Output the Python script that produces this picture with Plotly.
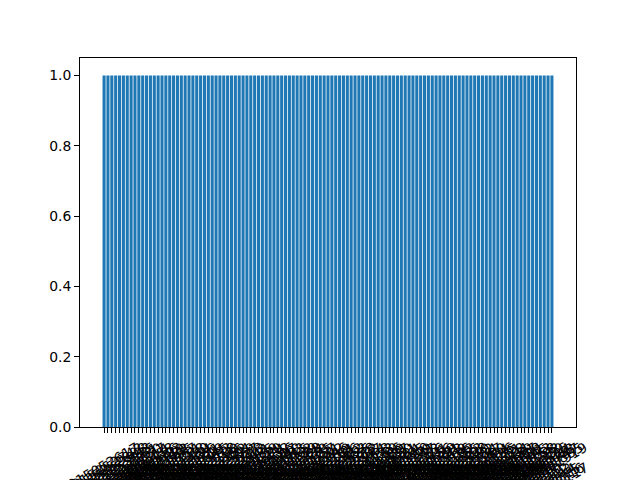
import plotly.graph_objects as go

dates = [
    "20150526", "20150527", "20150528", "20150529", "20150530", "20150531",
    "20150601", "20150602", "20150603", "20150604", "20150605", "20150606",
    "20150607", "20150608", "20150609", "20150610", "20150611", "20150612",
    "20150613", "20150614", "20150615", "20150616", "20150617", "20150618",
    "20150619", "20150620", "20150621", "20150622", "20150623", "20150624",
    "20150625", "20150626", "20150627", "20150628", "20150629", "20150630",
    "20150701", "20150702", "20150703", "20150704", "20150705", "20150706",
    "20150707", "20150708", "20150709", "20150710", "20150711", "20150712",
    "20150713", "20150714", "20150715", "20150716", "20150717", "20150718",
    "20150719", "20150720", "20150721", "20150722", "20150723", "20150724",
    "20150725", "20150726", "20150727", "20150728", "20150729", "20150730",
    "20150731", "20150801", "20150802", "20150803", "20150804", "20150805",
    "20150806", "20150807", "20150808", "20150809", "20150810", "20150811",
    "20150812", "20150813", "20150814", "20150815", "20150816", "20150817",
    "20150818", "20150819", "20150820", "20150821", "20150822", "20150823",
    "20150824", "20150825", "20150826", "20150827", "20150828", "20150829",
    "20150830", "20150831", "20150901", "20150902", "20150903", "20150904",
    "20150905", "20150906", "20150907", "20150908", "20150909", "20150910",
    "20150911", "20150912", "20150913", "20150914", "20150915", "20150916",
    "20150917", "20150918", "20150919",
]
codes = [
    "52015001", "52015002", "52015003", "52015004", "52015005", "52015006",
    "52015007", "52015008", "52015009", "52015010", "52015011", "52015012",
    "52015013", "52015014", "52015015", "52015016", "52015017", "52015018",
    "52015019", "52015020", "52015021", "52015022", "52015023", "52015024",
    "52015025", "52015026", "52015027", "52015028", "52015029", "52015030",
    "52015031", "52015032", "52015033", "52015034", "52015035", "52015036",
    "52015037", "52015038", "52015039", "52015040", "52015041", "52015042",
    "52015043", "52015044", "52015045", "52015046", "52015047", "52015048",
    "52015049", "52015050", "52015051", "52015052", "52015053", "52015054",
    "52015055", "52015056", "52015057", "52015058", "52015059", "52015060",
    "52015061", "52015062", "52015063", "52015064", "52015065", "52015066",
    "52015067", "52015068", "52015069", "52015070", "52015071", "52015072",
    "52015073", "52015074", "52015075", "52015076", "52015077", "52015078",
    "52015079", "52015080", "52015081", "52015082", "52015083", "52015084",
    "52015085", "52015086", "52015087", "52015088", "52015089", "52015090",
    "52015091", "52015092", "52015093", "52015094", "52015095", "52015096",
    "52015097", "52015098", "52015099", "52015100", "52015101", "52015102",
    "52015103", "52015104", "52015105", "52015106", "52015107", "52015108",
    "52015109", "52015110", "52015111", "52015112", "52015113", "52015114",
    "52015115", "52015116", "52015117",
]
suffixes = [
    "17", "42", "08", "93", "25", "61", "30", "77", "14", "58", "86", "03",
    "49", "22", "95", "67", "11", "38", "80", "54", "26", "71", "09", "45",
    "63", "18", "90", "36", "52", "04", "79", "27", "68", "13", "41", "85",
    "59", "20", "74", "32", "96", "07", "48", "83", "15", "62", "39", "88",
    "24", "70", "05", "57", "31", "92", "46", "19", "81", "66", "02", "53",
    "35", "78", "12", "97", "44", "28", "73", "60", "06", "89", "37", "50",
    "21", "84", "65", "10", "99", "47", "33", "76", "01", "56", "29", "91",
    "43", "69", "16", "82", "55", "23", "98", "40", "72", "34", "87", "00",
    "64", "26", "75", "51", "18", "94", "39", "67", "08", "81", "45", "13",
    "58", "92", "30", "76", "24", "63", "47", "85", "19",
]
values = [1] * len(dates)

y_tick_vals = [0.0, 0.2, 0.4, 0.6, 0.8, 1.0]
y_tick_text = ["0.0", "0.2", "0.4", "0.6", "0.8", "1.0"]

N = len(dates)
xs = list(range(N))
font = dict(family="DejaVu Sans", size=13.9, color="black")

fig = go.Figure()
fig.add_trace(go.Bar(x=xs, y=values, width=0.8,
                     marker=dict(color="#1f77b4", line=dict(width=0))))

pad = 0.05 * (N - 0.2)
annotations = []
for i in range(N):
    annotations.append(dict(x=i, y=0, xref="x", yref="paper",
                            text=dates[i] + suffixes[i] + "<br>" + codes[i],
                            textangle=-30, xanchor="center", yanchor="top",
                            yshift=-9.7, showarrow=False, font=font))

fig.update_layout(
    width=640, height=480, autosize=False,
    margin=dict(l=80, r=64, t=57.6, b=52.8, pad=0),
    plot_bgcolor="white", paper_bgcolor="white",
    showlegend=False,
    font=font,
    annotations=annotations,
    xaxis=dict(range=[-0.4 - pad, N - 0.6 + pad], tickvals=xs,
               ticktext=[""] * N, ticks="outside", ticklen=4.9,
               tickwidth=1.1, tickcolor="black", showline=True,
               linecolor="black", linewidth=1.1, mirror=True,
               showgrid=False, zeroline=False),
    yaxis=dict(range=[0, 1.05], tickvals=y_tick_vals, ticktext=y_tick_text,
               ticks="outside", ticklen=4.9, tickwidth=1.1,
               tickcolor="black", showline=True, linecolor="black",
               linewidth=1.1, mirror=True, showgrid=False, zeroline=False,
               tickfont=font),
)

fig.write_html("out.html")
